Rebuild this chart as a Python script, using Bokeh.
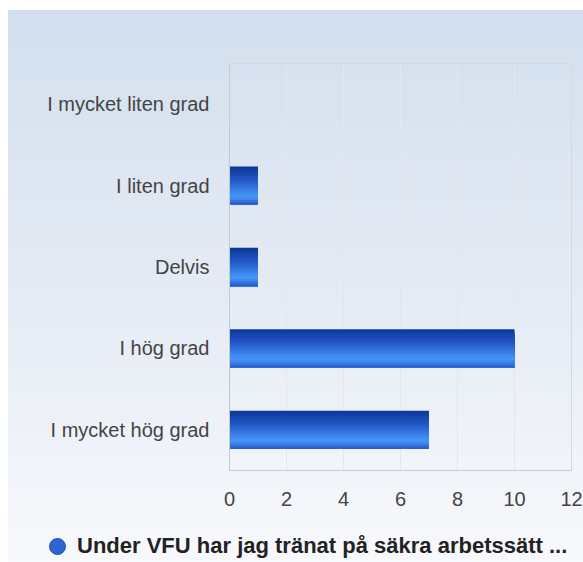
from bokeh.plotting import figure
from bokeh.layouts import column
from bokeh.models import FactorRange, Range1d, Legend, LegendItem, FixedTicker, ColumnDataSource
from bokeh.transform import dodge
from bokeh.embed import file_html
from bokeh.resources import INLINE

# ---- data ----
categories = ["I mycket liten grad", "I liten grad", "Delvis", "I hög grad", "I mycket hög grad"]
counts = [0, 1, 1, 10, 7]
series_name = "Under VFU har jag tränat på säkra arbetssätt ..."
x_ticks = [0, 2, 4, 6, 8, 10, 12]
x_max = 12

source = ColumnDataSource(dict(cat=categories, val=counts))

p = figure(
    width=575, height=500,
    y_range=FactorRange(factors=list(reversed(categories))),
    x_range=Range1d(0, x_max),
    output_backend="svg", toolbar_location=None,
    min_border_left=221, min_border_right=12, min_border_top=53, min_border_bottom=40,
)
p.border_fill_color = None
p.background_fill_color = None
p.outline_line_color = "#d3d9e1"

# bar styling: vertical colour gradient emulated with layered bands
stops = [(0.0, (0x0b, 0x37, 0x96)), (0.35, (0x23, 0x57, 0xc6)), (0.7, (0x3f, 0x8c, 0xf2)),
         (0.8, (0x45, 0x96, 0xf5)), (0.94, (0x2f, 0x6a, 0xd6)), (1.0, (0x22, 0x57, 0xc2))]


def grad_color(t):
    for (t0, c0), (t1, c1) in zip(stops[:-1], stops[1:]):
        if t0 <= t <= t1:
            f = (t - t0) / (t1 - t0)
            return "#%02x%02x%02x" % tuple(int(round(a + (b - a) * f)) for a, b in zip(c0, c1))
    return "#%02x%02x%02x" % stops[-1][1]


bar_h = 0.47
n = 16
sh = bar_h / n
for i in range(n):
    top = bar_h / 2 - i * sh
    bottom = -bar_h / 2
    p.hbar(y=dodge("cat", (top + bottom) / 2, range=p.y_range), right="val", left=0,
           height=top - bottom, source=source, fill_color=grad_color((i + 0.5) / n),
           line_color=None)

# axes
p.xaxis.ticker = FixedTicker(ticks=x_ticks)
for ax in (p.xaxis[0], p.yaxis[0]):
    ax.major_tick_line_color = None
    ax.minor_tick_line_color = None
    ax.major_label_text_font = "Liberation Sans"
    ax.major_label_text_font_size = "20px"
    ax.major_label_text_color = "#444444"
    ax.axis_line_color = "#c4c9cf"
p.xaxis.major_label_standoff = 15
p.yaxis.major_label_standoff = 14
p.xaxis.axis_line_color = "#c8cdd3"

p.xgrid.grid_line_color = "#e3e7ed"
p.ygrid.grid_line_color = None

# ---- legend row (separate strip so it is not clipped by the plot frame) ----
lg = figure(width=575, height=52, x_range=Range1d(0, 1), y_range=Range1d(0, 1),
            x_axis_type=None, y_axis_type=None, output_backend="svg", toolbar_location=None,
            min_border_left=0, min_border_right=0, min_border_top=0, min_border_bottom=0)
lg.border_fill_color = None
lg.background_fill_color = None
lg.outline_line_color = None
lg.xgrid.visible = False
lg.ygrid.visible = False

aligned_off = False
try:
    lg.frame_align = False
    p.frame_align = False
    aligned_off = True
except AttributeError:
    aligned_off = False

# legend swatch renderer (its single point lies outside the visible range)
dot = lg.scatter(x=[-5], y=[-5], marker="circle", size=16,
                 fill_color="#2d66d0", line_color="#1d4fb0")

legend = Legend(items=[LegendItem(label=series_name, renderers=[dot])],
                location=(29 if aligned_off else -192, -4), orientation="vertical")
legend.glyph_width = 40
legend.glyph_height = 40
legend.label_standoff = -7
legend.padding = 0
legend.margin = 0
legend.border_line_color = None
legend.background_fill_alpha = 0
legend.label_text_font = "Liberation Sans"
legend.label_text_font_style = "bold"
legend.label_text_font_size = "22px"
legend.label_text_color = "#222222"
lg.add_layout(legend, "center")

layout = column(p, lg, spacing=0)
layout.styles = {"margin-left": "8px", "margin-top": "10px",
                 "background": "linear-gradient(180deg, #d3dfee 0%, #e6ecf5 55%, #f8f9fc 100%)"}

open("out.html", "w").write(file_html(layout, INLINE))
